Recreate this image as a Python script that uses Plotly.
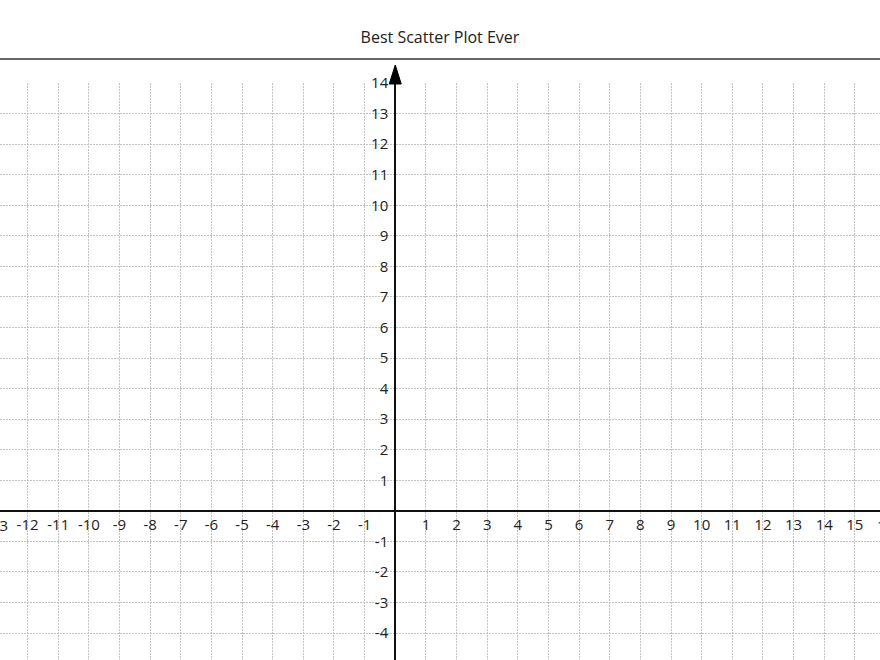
import plotly.graph_objects as go

title = 'Best Scatter Plot Ever'

# axis ranges (window edges)
x_range = [-12.9, 15.82]
y_range = [-4.88, 14]

# integer grid / tick positions
x_ticks = list(range(-12, 16))
y_ticks = list(range(-4, 15))
x_tick_text = ['' if v == 0 else str(v) for v in x_ticks]
y_tick_text = ['' if v == 0 else str(v) for v in y_ticks]

# labels that fall just outside the window and show only in part
x_edge_ticks = [-13, 16]
y_edge_ticks = [-5]

font = 'Open Sans'
tick_font = dict(family=font, size=15, color='#222')
grid_color = '#c2c2c2'

fig = go.Figure()
# empty scatter so the axes exist
fig.add_trace(go.Scatter(x=[], y=[], mode='markers', showlegend=False))

x_pos = (0 - x_range[0]) / (x_range[1] - x_range[0])
y_pos = (0 - y_range[0]) / (y_range[1] - y_range[0])

fig.update_layout(
    width=880, height=660,
    margin=dict(l=0, r=0, t=83, b=0),
    paper_bgcolor='white', plot_bgcolor='white',
    title=dict(text=title, x=0.5, xanchor='center', y=1 - 37 / 660, yanchor='middle',
               font=dict(family=font, size=16, color='#222')),
    showlegend=False,
    xaxis=dict(
        range=x_range, tickmode='array', tickvals=x_ticks, ticktext=x_tick_text,
        showgrid=True, gridcolor=grid_color, griddash='1.5px,1.5px', gridwidth=1,
        zeroline=False, showline=True, linecolor='#111', linewidth=2,
        anchor='free', position=y_pos, ticks='', ticklabelstandoff=0,
        tickfont=tick_font, fixedrange=True,
    ),
    yaxis=dict(
        range=y_range, tickmode='array', tickvals=y_ticks, ticktext=y_tick_text,
        showgrid=True, gridcolor=grid_color, griddash='1.5px,1.5px', gridwidth=1,
        zeroline=False, showline=True, linecolor='#111', linewidth=2,
        anchor='free', position=x_pos, ticks='', ticklabelstandoff=3,
        tickfont=tick_font, fixedrange=True,
    ),
)

# partial labels at the window edges
for v in x_edge_ticks:
    fig.add_annotation(x=(v - x_range[0]) / (x_range[1] - x_range[0]), xref='paper',
                       y=y_pos, yref='paper', yshift=-14, text=str(v), showarrow=False,
                       xanchor='center', yanchor='middle', font=tick_font)
for v in y_edge_ticks:
    fig.add_annotation(x=x_pos, xref='paper', xshift=-6,
                       y=(v - y_range[0]) / (y_range[1] - y_range[0]), yref='paper',
                       text=str(v), showarrow=False, xanchor='right', yanchor='middle',
                       font=tick_font)

# rule under the title
fig.add_shape(type='line', xref='paper', yref='paper', x0=0, x1=1,
              ysizemode='pixel', yanchor=1, y0=24, y1=24,
              line=dict(color='#666', width=2))

# arrow head on top of the y axis
fig.add_shape(type='path', xref='paper', yref='paper',
              xsizemode='pixel', xanchor=x_pos, ysizemode='pixel', yanchor=1,
              path='M -6,-1 L 6,-1 L 0,18 Z',
              fillcolor='black', line=dict(color='black', width=1))

fig.write_html('out.html', config={'displayModeBar': False},
               post_script="document.body.style.margin='0';")
